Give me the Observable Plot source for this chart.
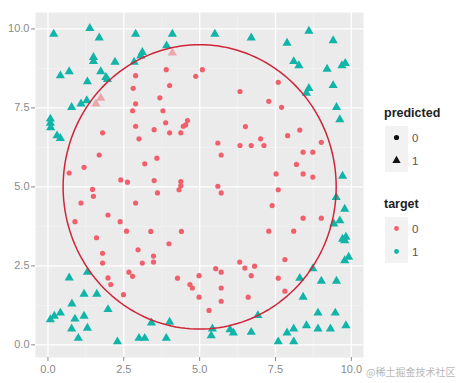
<!DOCTYPE html>
<html><head><meta charset="utf-8">
<script src="https://cdn.jsdelivr.net/npm/d3@7"></script>
<script src="https://cdn.jsdelivr.net/npm/@observablehq/plot@0.6"></script>
<style>
body{margin:0;background:#fff;font-family:"Liberation Sans",Arial,sans-serif;}
#wrap{position:relative;width:466px;height:383px;}
#legend{position:absolute;left:0;top:0;pointer-events:none;}
</style></head><body><div id="wrap"></div>
<script>
// target 0 / predicted 0 (red circles)
const redDotX = [3.90,4.87,2.89,4.01,2.81,3.69,2.89,2.79,3.79,2.89,3.88,4.60,4.54,4.46,3.50,4.01,4.38,1.80,3.00,1.69,3.19,3.59,1.19,0.70,2.40,2.62,3.50,4.38,1.47,4.38,4.32,3.61,1.50,1.09,2.89,1.98,0.89,2.38,3.39,4.40,2.59,1.60,3.99,2.97,1.80,1.80,3.48,3.48,3.11,2.67,2.79,1.98,2.07,4.27,4.98,4.68,4.76,4.98,2.49,5.09,6.33,7.59,7.28,7.70,6.51,5.60,6.33,6.70,7.01,7.12,5.71,7.90,8.30,9.01,8.41,8.73,8.19,8.41,8.73,7.52,5.60,5.71,7.59,7.39,8.41,9.01,7.28,8.10,7.81,6.32,6.49,6.81,6.70,5.53,5.71,5.71,7.59,7.81,5.71,6.60,5.31];
const redDotY = [8.71,8.50,8.52,8.21,8.12,7.82,7.63,7.41,7.41,6.92,7.03,7.10,6.96,6.92,6.81,6.71,6.71,6.71,6.52,6.01,5.73,5.91,5.62,5.44,5.22,5.15,5.20,5.17,4.92,5.04,4.91,4.81,4.70,4.49,4.49,4.11,3.90,3.90,3.59,3.59,3.60,3.39,3.20,3.01,2.90,2.59,2.81,2.62,2.59,2.30,2.17,2.12,1.91,2.11,2.19,1.91,1.80,1.51,1.59,8.71,8.02,8.31,7.71,7.52,6.91,6.39,6.31,6.31,6.52,6.31,6.01,6.62,6.80,6.41,6.10,6.10,5.71,5.41,5.31,5.41,5.02,4.81,4.91,4.41,4.01,4.01,3.60,3.60,2.70,2.62,2.43,2.49,2.19,2.41,2.30,1.80,2.11,1.70,1.38,1.51,1.09];
// target 0 / predicted 1 (red triangles)
const redTriX = [4.10,1.58,1.74];
const redTriY = [9.24,7.63,7.81];
// target 1 / predicted 1 (teal triangles)
const tealTriX = [0.19,1.38,1.69,2.89,4.10,1.50,1.50,2.21,3.11,3.06,2.84,3.91,0.41,0.70,1.30,1.74,1.91,1.96,0.78,1.09,1.28,0.08,0.08,0.09,0.30,0.41,0.70,1.30,1.19,1.61,0.79,1.98,0.41,0.21,0.08,0.89,1.19,0.78,1.30,1.00,2.29,3.00,3.19,3.90,3.41,4.01,5.50,6.70,8.60,7.88,9.40,8.10,8.27,9.20,9.69,9.80,8.60,8.52,9.40,9.51,9.62,9.71,9.50,9.78,9.42,9.62,9.71,9.78,9.82,9.78,9.91,8.73,8.30,9.01,9.51,8.41,8.90,9.47,6.92,8.52,8.90,9.31,9.82,8.10,7.88,5.42,5.38,6.00,6.11,6.70,7.59,8.10];
const tealTriY = [9.84,10.02,9.72,9.84,9.84,9.10,8.97,8.95,9.26,9.15,8.95,9.47,8.52,8.65,8.33,8.65,8.47,8.40,7.52,7.63,7.73,7.15,7.02,6.88,6.62,6.54,2.12,2.30,1.61,1.61,1.30,1.12,1.01,0.91,0.80,0.82,0.91,0.51,0.53,0.21,0.10,0.21,0.21,0.21,0.70,0.72,9.84,9.72,9.93,9.55,9.63,8.97,8.84,8.73,8.84,8.91,8.12,7.97,8.21,7.52,7.13,5.34,4.67,4.30,3.83,3.93,3.35,3.30,3.41,2.67,2.78,2.41,2.11,2.02,2.02,1.51,1.01,1.01,0.93,0.61,0.51,0.51,0.61,0.51,0.38,0.51,0.29,0.48,0.38,0.40,0.10,0.10];
// decision circle
const circleCenter = [5, 5];
const circleRadius = [4.5];
// axes
const xTicks = [0, 2.5, 5, 7.5, 10];
const yTicks = [0, 2.5, 5, 7.5, 10];
const minorTicks = [1.25, 3.75, 6.25, 8.75];
const legendPredicted = ["0", "1"];
const legendTarget = ["0", "1"];
const colors = {"0": "#F0606C", "1": "#10B4A8"};

const toRows = (xs, ys, t, p) => xs.map((x, i) => ({x, y: ys[i], target: t, predicted: p}));
const points = [
  ...toRows(redDotX, redDotY, "0", "0"),
  ...toRows(redTriX, redTriY, "0", "1"),
  ...toRows(tealTriX, tealTriY, "1", "1")
];
const angles = d3.range(0, 361, 2).map(a => a * Math.PI / 180);
const circle = angles.map(a => ({x: circleCenter[0] + circleRadius[0] * Math.cos(a), y: circleCenter[1] + circleRadius[0] * Math.sin(a)}));
const fmt = d => d.toFixed(1);

const chart = Plot.plot({
  width: 466, height: 383,
  marginLeft: 35, marginRight: 103, marginTop: 12, marginBottom: 26,
  x: {domain: [-0.41, 10.40]},
  y: {domain: [-0.40, 10.52]},
  style: {fontFamily: "'Liberation Sans', Arial, sans-serif", fontSize: "11px", color: "#7f7f7f", background: "white"},
  marks: [
    Plot.frame({fill: "#EBEBEB", stroke: null}),
    Plot.gridX(minorTicks, {stroke: "#F4F4F4", strokeOpacity: 1, strokeWidth: 0.7}),
    Plot.gridY(minorTicks, {stroke: "#F4F4F4", strokeOpacity: 1, strokeWidth: 0.7}),
    Plot.gridX(xTicks, {stroke: "white", strokeOpacity: 1, strokeWidth: 1.3}),
    Plot.gridY(yTicks, {stroke: "white", strokeOpacity: 1, strokeWidth: 1.3}),
    Plot.axisX(xTicks, {tickFormat: fmt, tickSize: 4, tickPadding: 4, stroke: "#8a8a8a", fill: "#8a8a8a", label: null}),
    Plot.axisY(yTicks, {tickFormat: fmt, tickSize: 4, tickPadding: 2, stroke: "#8a8a8a", fill: "#8a8a8a", label: null}),
    Plot.dot(points.filter(d => d.predicted === "0"), {x: "x", y: "y", fill: d => colors[d.target], r: 2.6, stroke: null}),
    Plot.dot(points.filter(d => d.predicted === "1"), {x: "x", y: "y", fill: d => colors[d.target], fillOpacity: d => d.target === "0" ? 0.5 : 1, symbol: "triangle", r: 3.4, stroke: null}),
    Plot.line(circle, {x: "x", y: "y", stroke: "#CF2539", strokeWidth: 1.5})
  ]
});
const wrap = document.getElementById("wrap");
wrap.appendChild(chart);

// legend overlay
const svg = d3.select(wrap).append("svg").attr("id", "legend").attr("width", 466).attr("height", 383);
const lx = 385, kw = 23, kh = 23;
function block(title, top, labels, drawKey) {
  svg.append("text").attr("x", lx - 1).attr("y", top).text(title)
    .attr("font-size", 12.5).attr("font-weight", "bold").attr("fill", "#222")
    .attr("font-family", "'Liberation Sans', Arial, sans-serif");
  labels.forEach((lab, i) => {
    const y0 = top + 9 + i * kh;
    svg.append("rect").attr("x", lx).attr("y", y0).attr("width", kw).attr("height", kh).attr("fill", "#F2F2F2");
    drawKey(lab, lx + kw / 2, y0 + kh / 2);
    svg.append("text").attr("x", lx + kw + 4).attr("y", y0 + kh / 2 + 4).text(lab)
      .attr("font-size", 11.5).attr("fill", "#555").attr("font-family", "'Liberation Sans', Arial, sans-serif");
  });
}
block("predicted", 117, legendPredicted, (lab, cx, cy) => {
  if (lab === "0") svg.append("circle").attr("cx", cx).attr("cy", cy).attr("r", 2.6).attr("fill", "#111");
  else svg.append("path").attr("d", d3.symbol(d3.symbolTriangle, 30)()).attr("transform", `translate(${cx},${cy})`).attr("fill", "#111");
});
block("target", 208, legendTarget, (lab, cx, cy) => {
  svg.append("circle").attr("cx", cx).attr("cy", cy).attr("r", 2.4).attr("fill", colors[lab]);
});
svg.append("text").attr("x", 366).attr("y", 376).text("@稀土掘金技术社区")
  .attr("font-size", 10).attr("fill", "#b8b8b8").attr("font-family", "'Noto Sans CJK SC', sans-serif");
</script>
</body></html>
